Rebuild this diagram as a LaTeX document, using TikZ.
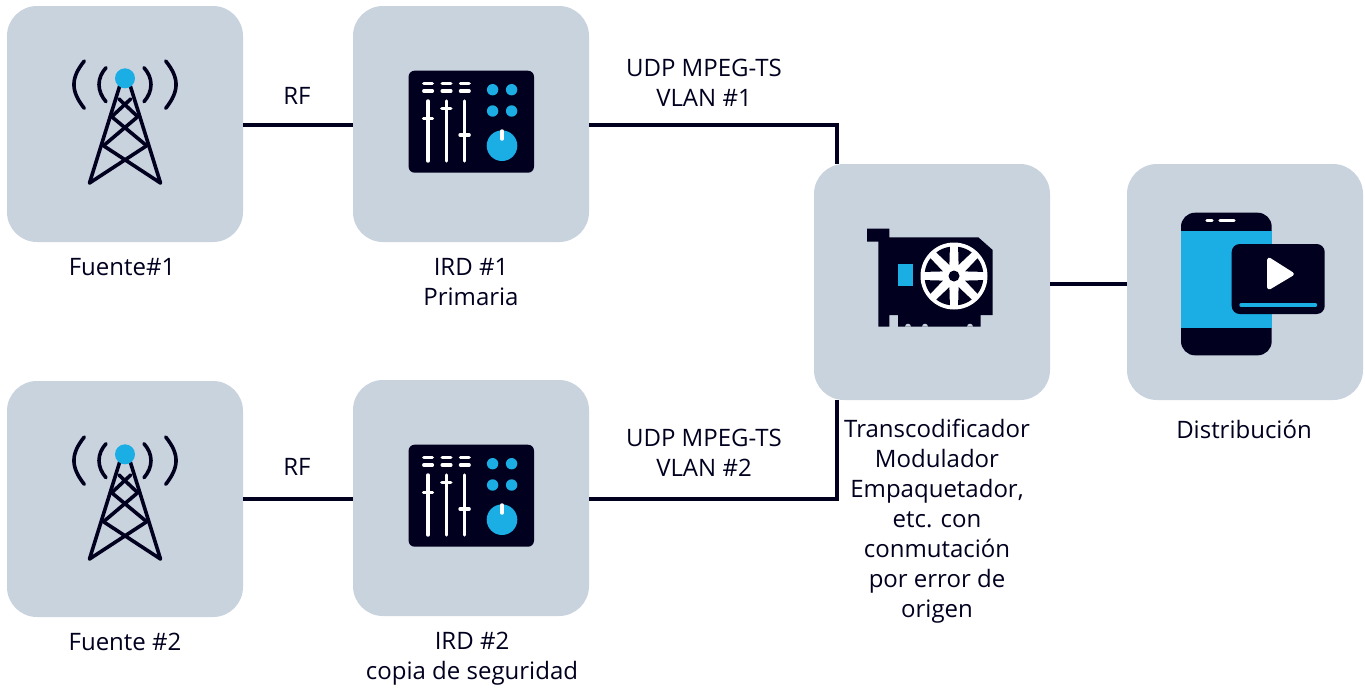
\documentclass[tikz,border=0pt]{standalone}
\usepackage{fontspec}
\setmainfont{Open Sans}
\definecolor{boxc}{HTML}{C9D3DE}
\definecolor{darkc}{HTML}{01011F}
\definecolor{bluec}{HTML}{1AAEE5}
\tikzset{
  tile/.style={fill=boxc,draw=none,rounded corners=22.5pt,minimum width=177pt,minimum height=177pt,inner sep=0pt,outer sep=0pt},
  lbl/.style={align=center,inner sep=0pt,font=\fontsize{18}{22.5}\selectfont,text=darkc},
  link/.style={draw=darkc,line width=2.7pt},
  tw/.style={draw=darkc,line width=2.7pt,line cap=round,line join=round},
  wh/.style={draw=white,line width=2.6pt,line cap=round}
}
\newcommand{\towericon}{%
  \draw[tw] (120,85)--(89.5,183) (130,85)--(160.5,183);
  \draw[tw] (103.5,145.7)--(160.5,183) (146.7,145.7)--(89.5,183);
  \draw[tw] (111.7,116.7)--(146.7,145.7) (137.7,116.7)--(103.5,145.7);
  \draw[tw] (119,99)--(137.7,116.7) (130.7,99)--(111.7,116.7);
  \draw[tw] (84.3,61) .. controls (70.5,78) and (70.5,91) .. (84.3,108.3);
  \draw[tw] (106,67.7) .. controls (96.7,78) and (96.7,91) .. (106,101.7);
  \draw[tw] (144,67.7) .. controls (153.3,78) and (153.3,91) .. (144,101.7);
  \draw[tw] (165.7,61) .. controls (179.5,78) and (179.5,91) .. (165.7,108.3);
  \fill[bluec] (125,78.3) circle (10);
}
\newcommand{\mixericon}{%
  \fill[darkc,rounded corners=4.5pt] (408.6,70.7) rectangle (534,172.7);
  \foreach \a/\b in {423.8/432.3,442.2/450.8,460.5/469.1}{
    \draw[wh] (\a,83.3)--(\b,83.3) (\a,91)--(\b,91);}
  \foreach \x/\k in {428/118.7,446.3/108.7,464.6/135}{
    \draw[wh] (\x,101)--(\x,161);
    \draw[wh] (\x-4.5,\k)--(\x+4.5,\k);}
  \foreach \x/\y in {492.6/89.7,511.6/89.7,492.6/111,511.6/111}{
    \fill[bluec] (\x,\y) circle (5.7);}
  \fill[bluec] (502,145.7) circle (15.3);
  \draw[wh] (502,131)--(502,139);
}
\begin{document}
\begin{tikzpicture}[x=0.75pt,y=-0.75pt]
\useasboundingbox (0,0) rectangle (1365,687);
\fill[white] (0,0) rectangle (1365,687);
% tiles
\node[tile] (src1) at (125,124) {};
\node[tile] (ird1) at (471,124) {};
\node[tile] (src2) at (125,499) {};
\node[tile] (ird2) at (471,498) {};
\node[tile] (trans) at (932,282) {};
\node[tile] (dist) at (1245,282) {};
\coordinate (in1) at (837,164);
\coordinate (in2) at (837,400);
\coordinate (dl) at (1050,284);
\coordinate (dr) at (1127,284);
% connectors
\draw[link] (src1.east |- 0,125) -- (ird1.west |- 0,125);
\draw[link] (src2.east |- 0,499) -- (ird2.west |- 0,499);
\draw[link] (ird1.east |- 0,125) -| (in1);
\draw[link] (ird2.east |- 0,499) -| (in2);
\draw[link] (dl) -- (dr);
% icons
\towericon
\begin{scope}[yshift=-376*0.75pt]\towericon\end{scope}
\mixericon
\begin{scope}[yshift=-374*0.75pt]\mixericon\end{scope}
% card
\fill[darkc] (867,228.7) -- (889.3,228.7) -- (889.3,237.3) -- (978.3,237.3) -- (992.7,250) -- (992.7,315) -- (980.7,315) -- (980.7,326.7) -- (898,326.7) -- (898,315) -- (889.3,315) -- (889.3,326.7) -- (878.3,326.7) -- (878.3,241.7) -- (867,241.7) -- cycle;
\foreach \x in {908,925,970}{\fill[boxc] (\x-3,326.7) arc[start angle=180,end angle=360,radius=3] -- cycle;}
\fill[bluec] (898,264) rectangle (913,286);
\fill[white] (954,276) circle (33.5);
\foreach \a in {22.5,67.5,...,337.5}{
  \fill[darkc] ({954+12*cos(\a)},{276+12*sin(\a)}) -- ({954+29.5*cos(\a-14.5)},{276+29.5*sin(\a-14.5)}) arc[start angle={\a-14.5},end angle={\a+14.5},radius=29.5] -- cycle;}
\fill[darkc] (954,276) circle (5.5);
% phone
\fill[darkc,rounded corners=10.5pt] (1181,212.7) rectangle (1271.7,355.3);
\fill[bluec] (1181,230.7) rectangle (1271.7,327.7);
\draw[wh] (1207,220.3)--(1212,220.3) (1220,220.3)--(1234,220.3);
\fill[darkc,rounded corners=6pt] (1231.7,244) rectangle (1324.7,314);
\fill[white,draw=white,line width=3pt,line join=round] (1269.2,259.7) -- (1291.8,274) -- (1269.2,287.5) -- cycle;
\draw[bluec,line width=2.5pt,line cap=round] (1241,305)--(1315.5,305);
% labels
\node[lbl] (t1) at (122,267) {Fuente\#1};
\node[lbl] (t2) at (297,96) {RF};
\node[lbl] (t3) at (471,282) {IRD \#1\\Primaria};
\node[lbl] (t4) at (704,82.5) {UDP MPEG-TS\\VLAN \#1};
\node[lbl] (t5) at (125,642) {Fuente \#2};
\node[lbl] (t6) at (297,467) {RF};
\node[lbl] (t7) at (472,659) {IRD \#2\\copia de seguridad};
\node[lbl] (t8) at (704,452.5) {UDP MPEG-TS\\VLAN \#2};
\node[lbl] (t9) at (937,521.5) {Transcodificador\\Modulador\\Empaquetador,\\etc. con\\conmutación\\por error de\\origen};
\node[lbl] (t10) at (1244,429) {Distribución};
\end{tikzpicture}
\end{document}
